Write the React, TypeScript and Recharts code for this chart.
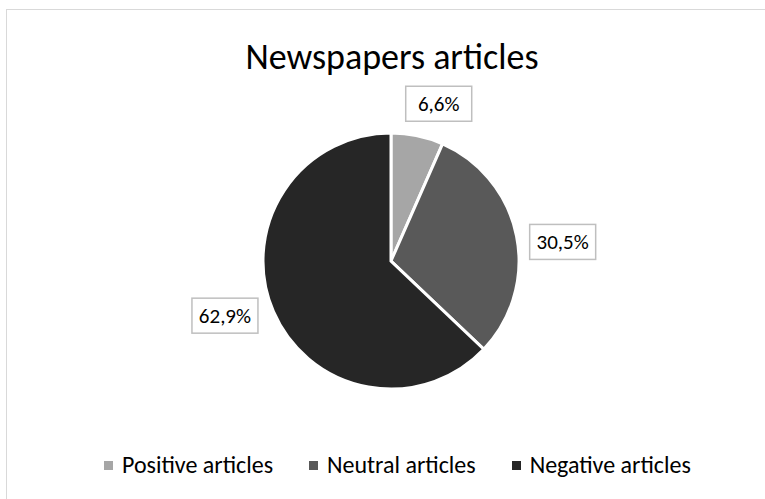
import React from 'react';
import { PieChart, Pie, Cell, Legend, PieLabelRenderProps } from 'recharts';

const categories = ['Positive articles', 'Neutral articles', 'Negative articles'];
const shares = [6.6, 30.5, 62.9];
const sliceColors = ['#a6a6a6', '#595959', '#262626'];
const valueLabels = ['6,6%', '30,5%', '62,9%'];

const data = categories.map((name, i) => ({ name, value: shares[i] }));

const FONT = "Carlito, Lato, 'Open Sans', sans-serif";
const RADIAN = Math.PI / 180;

const renderLabel = (props: PieLabelRenderProps) => {
  const { cx, cy, midAngle, outerRadius, index } = props as any;
  if (index === undefined) return null;
  const text = valueLabels[index];
  const w = 66;
  const h = 35;
  // excel's best-fit boxes sit a little clockwise of the slice middle
  const angle = midAngle - 5;
  const c = Math.cos(-angle * RADIAN);
  const s = Math.sin(-angle * RADIAN);
  // push the box out so its nearest edge sits just beyond the rim
  const d = outerRadius + 10 + (w / 2) * Math.abs(c) + (h / 2) * Math.abs(s);
  const x = cx + d * c;
  const y = cy + d * s;
  return (
    <g>
      <rect x={x - w / 2} y={y - h / 2} width={w} height={h} fill="#fff" stroke="#bfbfbf" strokeWidth={1.5} />
      <text x={x} y={y} dy={7} textAnchor="middle" fontSize={21} fontFamily={FONT} fill="#000">
        {text}
      </text>
    </g>
  );
};

const renderLegend = () => (
  <div style={{ display: 'flex', paddingLeft: 104, gap: 36, fontFamily: FONT, fontSize: 24, lineHeight: '30px', color: '#000' }}>
    {categories.map((name, i) => (
      <div key={name} style={{ display: 'flex', alignItems: 'center' }}>
        <span style={{ display: 'inline-block', width: 9, height: 9, background: sliceColors[i], marginRight: 9 }} />
        <span>{name}</span>
      </div>
    ))}
  </div>
);

export default function App() {
  return (
    <div style={{ position: 'absolute', left: 0, top: 0, width: 765, height: 499, overflow: 'hidden', background: '#fff' }}>
      <div
        style={{
          position: 'absolute', left: 6, top: 9, width: 759, height: 490,
          borderLeft: '1.5px solid #d9d9d9', borderTop: '1.5px solid #d9d9d9', boxSizing: 'border-box'
        }}
      />
      <div
        style={{
          position: 'absolute', left: 0, width: 784, top: 34, textAlign: 'center',
          fontFamily: FONT, fontSize: 36, color: '#000', lineHeight: '46px'
        }}
      >
        Newspapers articles
      </div>
      <div style={{ position: 'absolute', left: 0, top: 0 }}>
        <PieChart width={765} height={499} margin={{ top: 0, right: 0, bottom: 0, left: 0 }}>
          <Pie
            data={data}
            dataKey="value"
            nameKey="name"
            cx={391}
            cy={261}
            outerRadius={128}
            startAngle={90}
            endAngle={-270}
            stroke="#fff"
            strokeWidth={3}
            labelLine={false}
            label={renderLabel}
            isAnimationActive={false}
          >
            {data.map((entry, i) => (
              <Cell key={`cell-${i}`} fill={sliceColors[i]} />
            ))}
          </Pie>
          <Legend content={renderLegend} wrapperStyle={{ top: 450, left: 0, width: 765 }} />
        </PieChart>
      </div>
    </div>
  );
}
